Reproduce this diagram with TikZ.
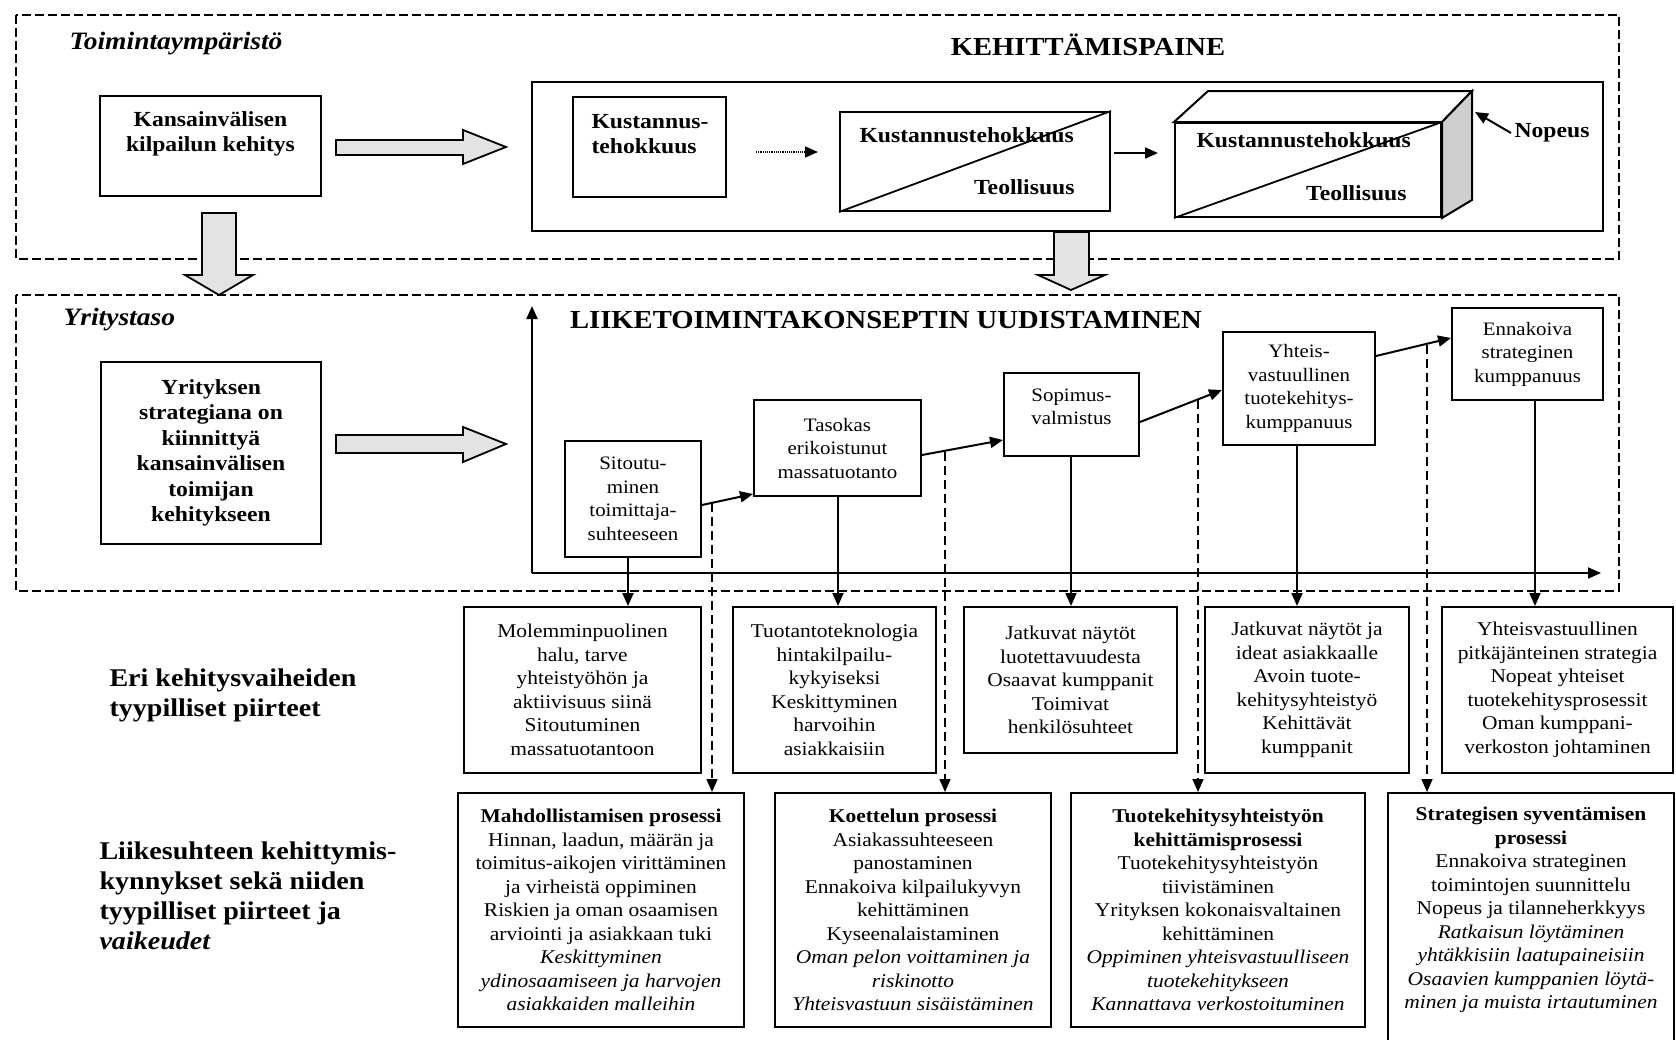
\documentclass[tikz,border=0pt]{standalone}
\usepackage{fontspec}
\setmainfont{Liberation Serif}[FakeStretch=1.1]
\usetikzlibrary{arrows.meta}
\tikzset{
 box/.style={draw, line width=2pt, inner sep=0pt, align=center},
 bt/.style={font=\fontsize{21.5}{25.5}\selectfont\bfseries, align=center},
 st/.style={font=\fontsize{19}{23.5}\selectfont},
 ct/.style={font=\fontsize{19.5}{23.5}\selectfont},
 heading/.style={font=\fontsize{26}{30}\selectfont\bfseries},
 area/.style={font=\fontsize{25}{30}\selectfont\bfseries\itshape},
 side/.style={font=\fontsize{25.5}{30}\selectfont\bfseries, align=left},
 dbox/.style={draw, line width=1.8pt, dash pattern=on 9pt off 4pt},
 conn/.style={line width=2pt, -{Triangle[length=13pt,width=11pt]}},
 dconn/.style={line width=1.6pt, dash pattern=on 9pt off 5pt, -{Triangle[length=13pt,width=11pt]}},
 hollow/.style={draw, line width=1.8pt, fill=gray!22},
}
\begin{document}
\begin{tikzpicture}[x=1pt,y=-1pt]
\fill[white] (0,0) rectangle (1676,1039);
\useasboundingbox (0,0) rectangle (1676,1039);

% dashed areas
\draw[dbox] (16,15) rectangle (1619,259);
\draw[dbox] (16,295) rectangle (1619,591);
\node[area, anchor=west] (env) at (66,44) {Toimintaympäristö};
\node[area, anchor=west] (firm) at (60,320) {Yritystaso};
\node[heading] (kp) at (1088,45) {KEHITTÄMISPAINE};
\node[heading] (lk) at (886,320) {LIIKETOIMINTAKONSEPTIN UUDISTAMINEN};

% top row
\node[box, minimum width=221pt, minimum height=100pt] (kv) at (210.5,146) {};
\node[bt] (kvt) at (210.5,134) {Kansainvälisen\\kilpailun kehitys};
\node[box, minimum width=1071pt, minimum height=149pt] (press) at (1067.5,156.5) {};
\node[box, minimum width=153pt, minimum height=100pt] (kt) at (649.5,147) {};
\node[bt, align=left, anchor=west] (ktt) at (588,134) {Kustannus-\\tehokkuus};
\node[box, minimum width=270pt, minimum height=99pt] (b2) at (975,161.5) {};
\draw[line width=1.8pt] (b2.south west) -- (b2.north east);
\node[bt, anchor=west] (b2a) at (856,135) {Kustannustehokkuus};
\node[bt, anchor=east] (b2b) at (1078,187) {Teollisuus};

% cube
\node[box, minimum width=266pt, minimum height=94pt] (cube) at (1308,170) {};
\draw[line width=2pt, fill=white] (cube.north west) -- (1208,91) -- (1472,91) -- (cube.north east) -- cycle;
\draw[line width=2pt, fill=gray!38] (cube.north east) -- (1472,91) -- (1472,200) -- (cube.south east) -- cycle;
\draw[line width=1.8pt] (cube.south west) -- (cube.north east);
\node[bt, anchor=west] (cua) at (1193,140) {Kustannustehokkuus};
\node[bt, anchor=east] (cub) at (1410,193) {Teollisuus};
\node[bt, anchor=west] (nop) at (1511,133) {Nopeus};
\coordinate (corner) at (1475,112);
\draw[conn] (nop.west) -- (corner);

% connectors top
\coordinate (ay) at (0,152);
\draw[line width=1.2pt, densely dotted, -{Triangle[length=13pt,width=11pt]}, shorten <=29pt, shorten >=21pt] (kt.east |- ay) -- (b2.west |- ay);
\coordinate (by) at (0,153);
\draw[conn, shorten <=3pt, shorten >=16pt] (b2.east |- by) -- (cube.west |- by);

% hollow arrows
\draw[hollow] (336,140) -- (463,140) -- (463,130) -- (506,147) -- (463,164) -- (463,155) -- (336,155) -- cycle;
\draw[hollow] (336,435) -- (463,435) -- (463,427) -- (506,444) -- (463,462) -- (463,453) -- (336,453) -- cycle;
\draw[hollow] (202,213) -- (236,213) -- (236,275) -- (253,275) -- (219,295) -- (185,275) -- (202,275) -- cycle;
\draw[hollow] (1054,232) -- (1089,232) -- (1089,275) -- (1105,275) -- (1071,290) -- (1038,275) -- (1054,275) -- cycle;

% firm level
\node[box, bt, minimum width=220pt, minimum height=182pt] (yr) at (211,453) {Yrityksen\\strategiana on\\kiinnittyä\\kansainvälisen\\toimijan\\kehitykseen};
\coordinate (origin) at (532,573);
\coordinate (ytop) at (532,306);
\coordinate (xend) at (1601,573);
\draw[conn] (origin) -- (ytop);
\draw[conn] (origin) -- (xend);

\node[box, st, minimum width=136pt, minimum height=116pt] (sit) at (633,499) {Sitoutu-\\minen\\toimittaja-\\suhteeseen};
\node[box, st, minimum width=167pt, minimum height=96pt] (tas) at (837.5,448) {Tasokas\\erikoistunut\\massatuotanto};
\node[box, st, minimum width=135pt, minimum height=83pt] (sop) at (1071.5,414.5) {};
\node[st, align=center] (sopt) at (1071.5,407) {Sopimus-\\valmistus};
\node[box, st, minimum width=152pt, minimum height=113pt] (yht) at (1299,388.5) {Yhteis-\\vastuullinen\\tuotekehitys-\\kumppanuus};
\node[box, st, minimum width=151pt, minimum height=92pt] (enn) at (1527.5,354) {Ennakoiva\\strateginen\\kumppanuus};

\draw[conn] ([yshift=-6pt]sit.east) -- ([yshift=3pt]tas.south west);
\draw[conn] ([yshift=-7pt]tas.east) -- ([yshift=17pt]sop.south west);
\draw[conn] ([yshift=-7.5pt]sop.east) -- ([yshift=-1.5pt]yht.west);
\draw[conn] ([yshift=32.5pt]yht.east) -- ([yshift=16pt]enn.west);

% characteristic boxes
\node[box, ct, minimum width=237pt, minimum height=166pt] (c1) at (582.5,690) {Molemminpuolinen\\halu, tarve\\yhteistyöhön ja\\aktiivisuus siinä\\Sitoutuminen\\massatuotantoon};
\node[box, ct, minimum width=203pt, minimum height=166pt] (c2) at (834.5,690) {Tuotantoteknologia\\hintakilpailu-\\kykyiseksi\\Keskittyminen\\harvoihin\\asiakkaisiin};
\node[box, ct, minimum width=213pt, minimum height=146pt] (c3) at (1070.5,680) {Jatkuvat näytöt\\luotettavuudesta\\Osaavat kumppanit\\Toimivat\\henkilösuhteet};
\node[box, ct, minimum width=204pt, minimum height=166pt] (c4) at (1307,690) {Jatkuvat näytöt ja\\ideat asiakkaalle\\Avoin tuote-\\kehitysyhteistyö\\Kehittävät\\kumppanit};
\node[box, ct, minimum width=231pt, minimum height=166pt] (c5) at (1557.5,690) {Yhteisvastuullinen\\pitkäjänteinen strategia\\Nopeat yhteiset\\tuotekehitysprosessit\\Oman kumppani-\\verkoston johtaminen};

\draw[conn] ([xshift=-5pt]sit.south) -- ([xshift=-5pt]sit.south |- c1.north);
\draw[conn] ([xshift=0.5pt]tas.south) -- ([xshift=0.5pt]tas.south |- c2.north);
\draw[conn] ([xshift=-0.5pt]sop.south) -- ([xshift=-0.5pt]sop.south |- c3.north);
\draw[conn] ([xshift=-2pt]yht.south) -- ([xshift=-2pt]yht.south |- c4.north);
\draw[conn] ([xshift=7.5pt]enn.south) -- ([xshift=7.5pt]enn.south |- c5.north);

% bottom boxes
\node[box, ct, minimum width=286pt, minimum height=234pt] (bA) at (601,910) {\textbf{Mahdollistamisen prosessi}\\Hinnan, laadun, määrän ja\\toimitus-aikojen virittäminen\\ja virheistä oppiminen\\Riskien ja oman osaamisen\\arviointi ja asiakkaan tuki\\\textit{Keskittyminen}\\\textit{ydinosaamiseen ja harvojen}\\\textit{asiakkaiden malleihin}};
\node[box, ct, minimum width=276pt, minimum height=234pt] (bB) at (913,910) {\textbf{Koettelun prosessi}\\Asiakassuhteeseen\\panostaminen\\Ennakoiva kilpailukyvyn\\kehittäminen\\Kyseenalaistaminen\\\textit{Oman pelon voittaminen ja}\\\textit{riskinotto}\\\textit{Yhteisvastuun sisäistäminen}};
\node[box, ct, minimum width=294pt, minimum height=234pt] (bC) at (1218,910) {\textbf{Tuotekehitysyhteistyön}\\\textbf{kehittämisprosessi}\\Tuotekehitysyhteistyön\\tiivistäminen\\Yrityksen kokonaisvaltainen\\kehittäminen\\\textit{Oppiminen yhteisvastuulliseen}\\\textit{tuotekehitykseen}\\\textit{Kannattava verkostoituminen}};
\node[box, minimum width=286pt, minimum height=260pt] (bD) at (1531,923) {};
\node[ct, align=center] (bDt) at (1531,910) {\textbf{Strategisen syventämisen}\\\textbf{prosessi}\\Ennakoiva strateginen\\toimintojen suunnittelu\\Nopeus ja tilanneherkkyys\\\textit{Ratkaisun löytäminen}\\\textit{yhtäkkisiin laatupaineisiin}\\\textit{Osaavien kumppanien löytä-}\\\textit{minen ja muista irtautuminen}};

% dashed connectors
\coordinate (d1) at (712,503);
\coordinate (d2) at (945,452);
\coordinate (d3) at (1198,400);
\coordinate (d4) at (1427,345);
\draw[dconn] (d1) -- (d1 |- bA.north);
\draw[dconn] (d2) -- (d2 |- bB.north);
\draw[dconn] (d3) -- (d3 |- bC.north);
\draw[dconn] (d4) -- (d4 |- bD.north);

% side labels
\node[side, anchor=west] (lab1) at (106,695) {Eri kehitysvaiheiden\\tyypilliset piirteet};
\node[side, anchor=west] (lab2) at (96,896) {Liikesuhteen kehittymis-\\kynnykset sekä niiden\\tyypilliset piirteet ja\\\textit{vaikeudet}};
\end{tikzpicture}
\end{document}
